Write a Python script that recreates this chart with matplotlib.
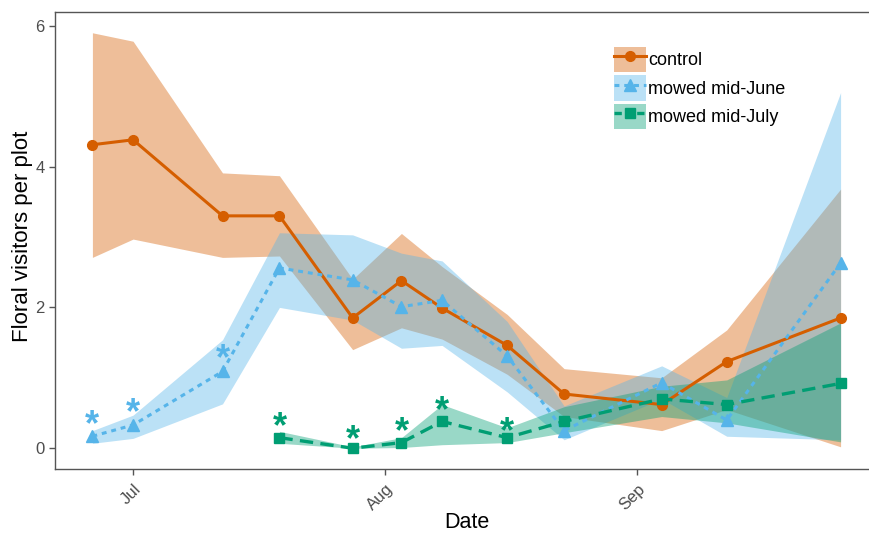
import matplotlib.pyplot as plt
import matplotlib.dates as mdates
import pandas as pd
from matplotlib.lines import Line2D
from matplotlib.patches import Patch
from matplotlib.legend_handler import HandlerTuple

plt.rcParams['font.family'] = ['Liberation Sans', 'DejaVu Sans']

# sampling dates (year is arbitrary)
dates = pd.to_datetime(['2015-06-26', '2015-07-01', '2015-07-12', '2015-07-19',
                        '2015-07-28', '2015-08-03', '2015-08-08', '2015-08-16',
                        '2015-08-23', '2015-09-04', '2015-09-12', '2015-09-26'])

control_mean = [4.31, 4.38, 3.30, 3.30, 1.85, 2.38, 1.99, 1.46, 0.77, 0.62, 1.23, 1.85]
control_lo = [2.71, 2.97, 2.71, 2.73, 1.40, 1.71, 1.55, 1.05, 0.45, 0.25, 0.55, 0.02]
control_hi = [5.90, 5.78, 3.91, 3.87, 2.40, 3.05, 2.58, 1.90, 1.13, 1.00, 1.68, 3.68]

june_mean = [0.17, 0.33, 1.09, 2.56, 2.39, 2.01, 2.10, 1.31, 0.25, 0.93, 0.40, 2.63]
june_lo = [0.07, 0.14, 0.63, 2.00, 1.82, 1.42, 1.46, 0.80, 0.12, 0.70, 0.17, 0.12]
june_hi = [0.25, 0.47, 1.54, 3.06, 3.03, 2.77, 2.66, 1.80, 0.60, 1.17, 0.72, 5.05]

july_dates = dates[3:]
july_mean = [0.15, 0.00, 0.08, 0.38, 0.15, 0.38, 0.70, 0.62, 0.92]
july_lo = [0.07, 0.00, 0.01, 0.05, 0.08, 0.22, 0.45, 0.36, 0.09]
july_hi = [0.24, 0.02, 0.15, 0.62, 0.29, 0.59, 0.88, 0.97, 1.78]

# significance stars
june_star_dates = dates[:3]
june_star_y = [0.43, 0.60, 1.37]
july_star_dates = dates[3:8]
july_star_y = [0.40, 0.21, 0.32, 0.63, 0.33]

labels = ['control', 'mowed mid-June', 'mowed mid-July']
c_ctrl, c_june, c_july = '#D55E00', '#56B4E9', '#009E73'

fig = plt.figure(figsize=(8.69, 5.36), dpi=100)
ax = fig.add_axes([55 / 869, 67 / 536, 823 / 869, 457 / 536])

ax.fill_between(dates, control_lo, control_hi, color=c_ctrl, alpha=0.4, lw=0)
ax.fill_between(dates, june_lo, june_hi, color=c_june, alpha=0.4, lw=0)
ax.fill_between(july_dates, july_lo, july_hi, color=c_july, alpha=0.4, lw=0)

ax.plot(dates, control_mean, color=c_ctrl, lw=2.2, marker='o', ms=7)
ax.plot(dates, june_mean, color=c_june, lw=2.2, marker='^', ms=8.5, dashes=(1.6, 1.6))
ax.plot(july_dates, july_mean, color=c_july, lw=2.4, marker='s', ms=6.5, dashes=(4, 2.2))

fs_star = 26
for d, y in zip(june_star_dates, june_star_y):
    ax.annotate('*', (d, y), xytext=(0, -0.47 * fs_star), textcoords='offset points',
                ha='center', va='baseline', color=c_june, fontsize=fs_star, fontweight='bold')
for d, y in zip(july_star_dates, july_star_y):
    ax.annotate('*', (d, y), xytext=(0, -0.47 * fs_star), textcoords='offset points',
                ha='center', va='baseline', color=c_july, fontsize=fs_star, fontweight='bold')

span = dates[-1] - dates[0]
ax.set_xlim(dates[0] - span * 0.05, dates[-1] + span * 0.05)
ax.set_ylim(-0.295, 6.195)
ax.set_yticks([0, 2, 4, 6])
ax.xaxis.set_major_locator(mdates.MonthLocator())
ax.xaxis.set_major_formatter(mdates.DateFormatter('%b'))
plt.setp(ax.get_xticklabels(), rotation=45, ha='right', va='top', rotation_mode='anchor')

ax.tick_params(colors='#555555', labelcolor='#4D4D4D', labelsize=12, length=4, width=1)
ax.tick_params(axis='x', pad=5)
for s in ax.spines.values():
    s.set_color('#555555')
    s.set_linewidth(1)

ax.set_xlabel('Date', fontsize=15.5, va='center')
ax.xaxis.set_label_coords(0.5, -0.118)
ax.set_ylabel('Floral visitors per plot', fontsize=16, va='center')
ax.yaxis.set_label_coords(-0.040, 0.51)

handles = [
    (Patch(facecolor=c_ctrl, alpha=0.4, lw=0), Line2D([], [], color=c_ctrl, lw=2.2, marker='o', ms=7)),
    (Patch(facecolor=c_june, alpha=0.4, lw=0), Line2D([], [], color=c_june, lw=2.2, marker='^', ms=8.5, dashes=(1.6, 1.6))),
    (Patch(facecolor=c_july, alpha=0.4, lw=0), Line2D([], [], color=c_july, lw=2.4, marker='s', ms=6.5, dashes=(2.2, 1.2))),
]
ax.legend(handles, labels, handler_map={tuple: HandlerTuple(ndivide=1, pad=0)},
          loc='upper left', bbox_to_anchor=(0.679, 0.924), frameon=False,
          fontsize=13, handlelength=1.77, handleheight=1.77, labelspacing=0.19,
          handletextpad=0.15, borderpad=0, borderaxespad=0)

fig.savefig('out.png', dpi=100)
